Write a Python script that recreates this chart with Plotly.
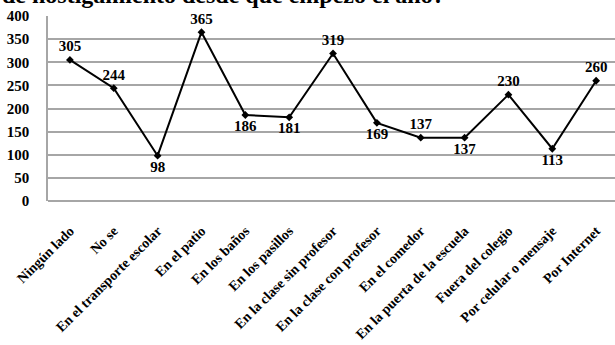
import plotly.graph_objects as go

categories = ["Ningún lado", "No se", "En el transporte escolar", "En el patio",
              "En los baños", "En los pasillos", "En la clase sin profesor",
              "En la clase con profesor", "En el comedor",
              "En la puerta de la escuela", "Fuera del colegio",
              "Por celular o mensaje", "Por Internet"]
values = [305, 244, 98, 365, 186, 181, 319, 169, 137, 137, 230, 113, 260]
label_pos = ["top center", "top center", "bottom center", "top center",
             "bottom center", "bottom center", "top center", "bottom center",
             "top center", "bottom center", "top center", "bottom center",
             "top center"]
title_text = "de hostigamiento desde que empezó el año?"
yticks = [0, 50, 100, 150, 200, 250, 300, 350, 400]

FONT = "Liberation Serif"

fig = go.Figure()
fig.add_trace(go.Scatter(
    x=list(range(len(categories))), y=values,
    mode="lines+markers+text",
    line=dict(color="black", width=2),
    marker=dict(symbol="diamond", size=6, color="black"),
    text=[f"<b>{v}</b>" for v in values],
    textposition=label_pos,
    textfont=dict(family=FONT, size=15, color="black"),
    cliponaxis=False,
    showlegend=False,
))

fig.add_annotation(
    text=f"<b>{title_text}</b>", xref="paper", yref="paper",
    x=-48/567, y=1 + 6/185, xanchor="left", yanchor="bottom",
    showarrow=False, font=dict(family=FONT, size=24, color="black"),
)

fig.update_layout(
    width=615, height=345,
    margin=dict(l=48, r=0, t=16, b=144),
    paper_bgcolor="white", plot_bgcolor="white",
    xaxis=dict(
        range=[-0.5, 12.43], automargin=False,
        tickmode="array", tickvals=list(range(len(categories))),
        ticktext=[f"<b>{c}</b>" for c in categories],
        tickangle=-45, tickfont=dict(family=FONT, size=14, color="black"),
        showgrid=False, zeroline=False, showline=False, ticks="",
        ticklabelstandoff=18,
    ),
    yaxis=dict(
        range=[0, 400], tickvals=yticks, automargin=False,
        ticktext=[f"<b>{t}</b>" for t in yticks],
        tickfont=dict(family=FONT, size=15, color="black"),
        showgrid=True, gridcolor="#a6a6a6", gridwidth=1.5,
        zeroline=True, zerolinecolor="#a6a6a6", zerolinewidth=1.5,
        showline=True, linecolor="#a6a6a6", linewidth=1.5,
        ticks="", ticklabelstandoff=14,
    ),
)

fig.write_html("out.html")
